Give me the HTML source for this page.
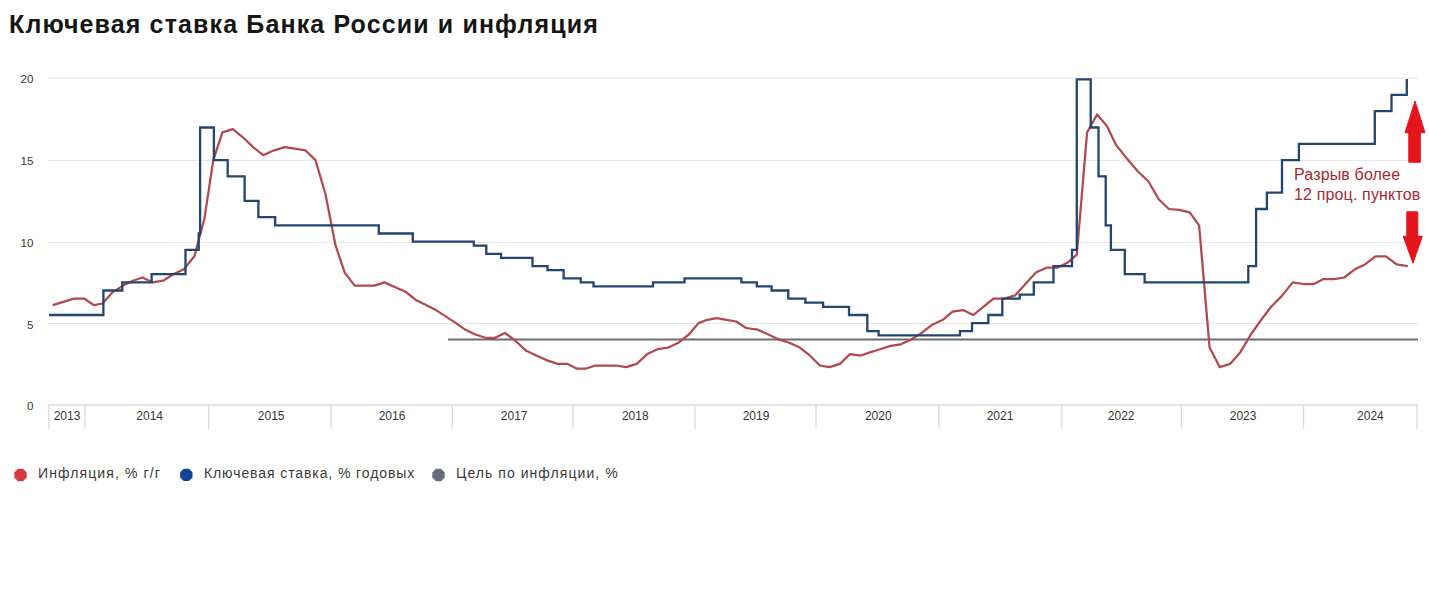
<!DOCTYPE html>
<html><head><meta charset="utf-8">
<style>
html,body{margin:0;padding:0;background:#fff;width:1429px;height:594px;overflow:hidden;}
body{position:relative;font-family:"Liberation Sans",sans-serif;}
.title{position:absolute;left:9px;top:8px;font-size:25px;font-weight:bold;color:#151515;letter-spacing:1.13px;white-space:nowrap;line-height:32px;}
svg{position:absolute;left:0;top:0;}
.leg{position:absolute;top:463px;font-size:14px;color:#3a3a3a;letter-spacing:1px;white-space:nowrap;line-height:20px;}
.note{position:absolute;left:1294px;top:164.8px;font-size:16px;color:#a52a30;line-height:17.8px;letter-spacing:0.15px;transform:scaleY(1.08);transform-origin:0 0;white-space:nowrap;}
</style></head><body>
<div class="title">Ключевая ставка Банка России и инфляция</div>
<svg width="1429" height="594" viewBox="0 0 1429 594">
<g stroke="#e8e8e8" stroke-width="1">
<line x1="48" y1="78" x2="1418" y2="78"/>
<line x1="48" y1="160.5" x2="1418" y2="160.5"/>
<line x1="48" y1="242.5" x2="1418" y2="242.5"/>
<line x1="48" y1="323.5" x2="1418" y2="323.5"/>
</g>
<g stroke="#d9dbe3" stroke-width="1.3">
<line x1="48" y1="405" x2="1418" y2="405"/>
<line x1="48.8" y1="405" x2="48.8" y2="429" /><line x1="85" y1="405" x2="85" y2="429" /><line x1="208.6" y1="405" x2="208.6" y2="429" /><line x1="331" y1="405" x2="331" y2="429" /><line x1="452.3" y1="405" x2="452.3" y2="429" /><line x1="573" y1="405" x2="573" y2="429" /><line x1="695" y1="405" x2="695" y2="429" /><line x1="816" y1="405" x2="816" y2="429" /><line x1="938.8" y1="405" x2="938.8" y2="429" /><line x1="1061.8" y1="405" x2="1061.8" y2="429" /><line x1="1181.4" y1="405" x2="1181.4" y2="429" /><line x1="1303.5" y1="405" x2="1303.5" y2="429" /><line x1="1417" y1="405" x2="1417" y2="429" />
</g>
<g font-family="Liberation Sans" font-size="11.6" fill="#363636" text-anchor="end">
<text x="33.5" y="83.2">20</text>
<text x="33.5" y="165.2">15</text>
<text x="33.5" y="247.2">10</text>
<text x="33.5" y="328.8">5</text>
<text x="33.5" y="410.2">0</text>
</g>
<g font-family="Liberation Sans" font-size="12" fill="#363636" text-anchor="middle">
<text x="67" y="420">2013</text><text x="149.7" y="420">2014</text><text x="271.2" y="420">2015</text><text x="392" y="420">2016</text><text x="514.2" y="420">2017</text><text x="635.3" y="420">2018</text><text x="756" y="420">2019</text><text x="878.3" y="420">2020</text><text x="1000" y="420">2021</text><text x="1121.2" y="420">2022</text><text x="1243.1" y="420">2023</text><text x="1370.4" y="420">2024</text>
</g>
<line x1="448" y1="339.4" x2="1418" y2="339.4" stroke="#6b6d72" stroke-width="2"/>
<path d="M52.6,305.2 L63.4,301.9 L73.8,298.7 L84.6,298.7 L94.0,305.2 L102.5,303.5 L112.8,292.1 L122.9,285.6 L132.9,280.7 L142.6,277.5 L152.6,282.4 L163.1,280.7 L173.3,274.2 L183.8,269.3 L194.4,256.3 L204.4,218.8 L213.3,160.1 L222.4,132.4 L232.8,129.1 L242.9,137.3 L253.1,147.1 L263.3,155.2 L274.1,150.3 L284.7,147.1 L294.8,148.7 L305.3,150.3 L315.5,160.1 L325.5,194.3 L335.4,244.9 L344.7,272.6 L354.7,285.6 L364.3,285.6 L374.3,285.6 L384.4,282.4 L395.3,287.2 L406.1,292.1 L416.4,300.3 L426.4,305.2 L436.0,310.1 L446.0,316.6 L456.0,323.1 L465.1,329.6 L475.2,334.5 L485.6,337.8 L495.2,337.8 L504.9,332.9 L515.6,341.0 L526.3,350.8 L536.8,355.7 L547.8,360.6 L557.7,363.9 L567.6,363.9 L577.0,368.7 L585.6,368.7 L595.2,365.5 L605.4,365.5 L615.9,365.5 L626.1,367.1 L636.7,363.9 L647.2,354.1 L657.5,349.2 L668.2,347.6 L678.6,342.7 L688.9,334.5 L698.6,323.1 L707.3,319.8 L717.0,318.2 L726.4,319.8 L736.1,321.5 L746.2,328.0 L757.5,329.6 L768.4,334.5 L778.8,339.4 L789.3,342.7 L799.8,347.6 L810.1,355.7 L819.9,365.5 L829.5,367.1 L839.9,363.9 L850.0,354.1 L860.1,355.7 L869.9,352.4 L880.0,349.2 L890.6,345.9 L900.8,344.3 L911.4,339.4 L921.7,332.9 L932.3,324.7 L942.9,319.8 L952.5,311.7 L963.1,310.1 L973.3,315.0 L983.4,306.8 L993.4,298.7 L1004.1,298.7 L1015.1,295.4 L1025.4,284.0 L1035.9,272.6 L1046.5,267.7 L1057.1,267.7 L1067.4,262.8 L1076.8,254.6 L1087.1,132.4 L1097.1,114.5 L1106.9,125.9 L1116.3,145.4 L1126.9,158.5 L1137.9,171.5 L1148.3,181.3 L1158.7,199.2 L1168.8,209.0 L1179.3,209.8 L1189.7,212.3 L1199.1,225.3 L1209.6,347.6 L1219.7,367.1 L1230.1,363.9 L1240.2,352.4 L1250.8,334.5 L1261.2,319.8 L1271.2,306.8 L1282.3,295.4 L1292.7,282.4 L1303.3,284.0 L1313.8,284.0 L1323.6,279.1 L1334.1,279.1 L1344.3,277.5 L1354.8,269.3 L1365.0,264.4 L1375.5,256.3 L1386.0,256.3 L1396.6,264.4 L1407.8,266.1" fill="none" stroke="#b2494f" stroke-width="2.25" stroke-linejoin="round"/>
<path d="M49.0,315.0 L103.4,315.0 L103.4,290.5 L122.3,290.5 L122.3,282.4 L151.6,282.4 L151.6,274.2 L185.5,274.2 L185.5,249.8 L198.7,249.8 L198.7,233.5 L200.1,233.5 L200.1,127.5 L213.9,127.5 L213.9,160.1 L227.7,160.1 L227.7,176.4 L244.6,176.4 L244.6,200.9 L258.4,200.9 L258.4,217.2 L275.2,217.2 L275.2,225.3 L378.8,225.3 L378.8,233.5 L412.8,233.5 L412.8,241.6 L473.8,241.6 L473.8,245.7 L486.3,245.7 L486.3,253.8 L501.1,253.8 L501.1,257.9 L532.5,257.9 L532.5,266.1 L547.5,266.1 L547.5,270.1 L563.6,270.1 L563.6,278.3 L580.7,278.3 L580.7,282.4 L593.5,282.4 L593.5,286.4 L653.0,286.4 L653.0,282.4 L684.5,282.4 L684.5,278.3 L741.4,278.3 L741.4,282.4 L756.8,282.4 L756.8,286.4 L771.6,286.4 L771.6,290.5 L788.3,290.5 L788.3,298.7 L805.4,298.7 L805.4,302.7 L823.1,302.7 L823.1,306.8 L849.0,306.8 L849.0,315.0 L867.3,315.0 L867.3,331.2 L878.6,331.2 L878.6,335.3 L960.0,335.3 L960.0,331.2 L972.0,331.2 L972.0,323.1 L988.3,323.1 L988.3,315.0 L1002.3,315.0 L1002.3,298.7 L1019.7,298.7 L1019.7,294.6 L1033.8,294.6 L1033.8,282.4 L1053.5,282.4 L1053.5,266.1 L1072.0,266.1 L1072.0,249.8 L1076.8,249.8 L1076.8,79.3 L1090.7,79.3 L1090.7,127.5 L1098.5,127.5 L1098.5,176.4 L1105.7,176.4 L1105.7,225.3 L1110.9,225.3 L1110.9,249.8 L1124.8,249.8 L1124.8,274.2 L1144.6,274.2 L1144.6,282.4 L1248.3,282.4 L1248.3,266.1 L1256.1,266.1 L1256.1,209.0 L1266.9,209.0 L1266.9,192.7 L1282.0,192.7 L1282.0,160.1 L1298.9,160.1 L1298.9,143.8 L1374.8,143.8 L1374.8,111.2 L1391.5,111.2 L1391.5,94.9 L1406.8,94.9 L1406.8,79.0" fill="none" stroke="#22466f" stroke-width="2.3" stroke-linejoin="miter"/>
<path d="M1415,101 L1425,132.7 L1420.3,132.7 L1420.3,162.2 L1408.8,162.2 L1408.8,132.7 L1405,132.7 Z" fill="#e3141c" stroke="#e3141c" stroke-width="1" stroke-linejoin="round"/>
<path d="M1413,263.2 L1422.3,236.3 L1417.8,236.3 L1417.8,211.8 L1406.8,211.8 L1406.8,236.3 L1403.2,236.3 Z" fill="#e3141c" stroke="#e3141c" stroke-width="1" stroke-linejoin="round"/>
<polygon points="26.70,477.57 23.07,481.20 17.93,481.20 14.30,477.57 14.30,472.43 17.93,468.80 23.07,468.80 26.70,472.43" fill="#d63a40"/>
<polygon points="192.50,477.47 188.87,481.10 183.73,481.10 180.10,477.47 180.10,472.33 183.73,468.70 188.87,468.70 192.50,472.33" fill="#12459a"/>
<polygon points="444.70,477.57 441.07,481.20 435.93,481.20 432.30,477.57 432.30,472.43 435.93,468.80 441.07,468.80 444.70,472.43" fill="#676c78"/>
</svg>
<div class="leg" style="left:38px;letter-spacing:1.1px">Инфляция, % г/г</div>
<div class="leg" style="left:204px;letter-spacing:0.9px">Ключевая ставка, % годовых</div>
<div class="leg" style="left:456px;letter-spacing:1.05px">Цель по инфляции, %</div>
<div class="note">Разрыв более<br>12 проц. пунктов</div>
</body></html>
